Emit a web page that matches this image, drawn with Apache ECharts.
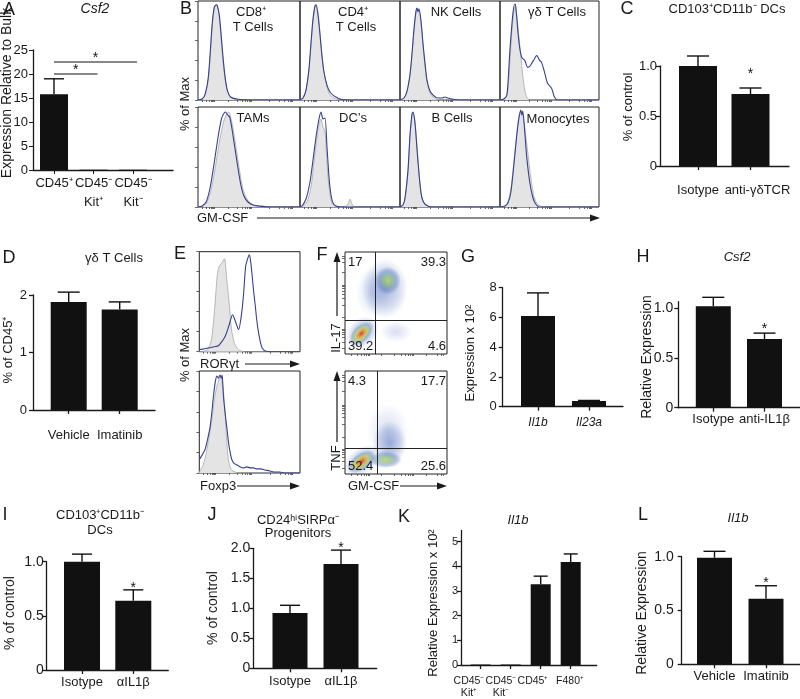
<!DOCTYPE html>
<html><head><meta charset="utf-8">
<script src="https://cdn.jsdelivr.net/npm/echarts@6/dist/echarts.min.js"></script>
<style>html,body{margin:0;padding:0;background:#fff}
#c{position:absolute;left:0;top:0;width:800px;height:699px}
#a{position:absolute;left:0;top:0;width:190px;height:215px}</style>
</head><body><div id="c"></div><div id="a"></div>
<script>
const FONT = '"Liberation Sans", Arial, Helvetica, sans-serif';

// ================= DATA =================
// A  Csf2
const catsA = ['CD45⁺', 'CD45⁻\nKit⁺', 'CD45⁻\nKit⁻'];
const meanA = [15.8, 0.06, 0.06];
const errA  = [3.2, 0, 0];
const sigA  = [[0, 2, 22.5], [0, 1, 20.0]];   // [from category, to category, bracket height]
// C  CD103+CD11b- DCs
const catsC = ['Isotype', 'anti-γδTCR'];
const meanC = [1.0, 0.72];
const errC  = [0.10, 0.06];
const starC = [0, 1];
// D  γδ T cells
const catsD = ['Vehicle', 'Imatinib'];
const meanD = [1.88, 1.75];
const errD  = [0.17, 0.13];
const starD = [0, 0];
// G  Expression x 10^2
const catsG = ['Il1b', 'Il23a'];
const meanG = [6.1, 0.38];
const errG  = [1.55, 0.04];
const starG = [0, 0];
// H  Csf2 relative expression
const catsH = ['Isotype', 'anti-IL1β'];
const meanH = [1.02, 0.69];
const errH  = [0.09, 0.06];
const starH = [0, 1];
// I  CD103+CD11b- DCs
const catsI = ['Isotype', 'αIL1β'];
const meanI = [1.0, 0.64];
const errI  = [0.07, 0.10];
const starI = [0, 1];
// J  CD24hi SIRPa- progenitors
const catsJ = ['Isotype', 'αIL1β'];
const meanJ = [0.92, 1.74];
const errJ  = [0.13, 0.23];
const starJ = [0, 1];
// K  Il1b relative expression x 10^2
const catsK = ['CD45⁻\nKit⁺', 'CD45⁻\nKit⁻', 'CD45⁺', 'F480⁺'];
const meanK = [0.02, 0.02, 3.27, 4.17];
const errK  = [0, 0, 0.33, 0.33];
const starK = [0, 0, 0, 0];
// L  Il1b relative expression
const catsL = ['Vehicle', 'Imatinib'];
const meanL = [0.99, 0.61];
const errL  = [0.06, 0.12];
const starL = [0, 1];

// Tick values
const ticksA = [0, 5, 10, 15, 20, 25];
const ticksC = [0, 0.5, 1.0];
const ticksD = [0, 1, 2];
const ticksG = [0, 2, 4, 6, 8];
const ticksJ = [0, 0.5, 1.0, 1.5, 2.0];
const ticksK = [0, 1, 2, 3, 4, 5];

// B histograms (GM-CSF, % of Max): iso = grey control, gm = stained
const isoCD8 = [[0,0],[4,1],[7,5],[10,20],[12,45],[14,75],[16,92],[18,97],[20,90],[22,70],[24,45],[26,25],[28,12],[31,4],[35,1],[45,0],[100,0]];
const gmCD8  = [[0,0],[4,1],[7,6],[10,22],[12,48],[14,78],[16,94],[18,96],[19,95],[21,85],[23,62],[25,38],[27,20],[29,9],[32,3],[38,1],[50,0],[100,0]];
const isoCD4 = [[0,0],[3,2],[6,10],[9,30],[11,55],[13,80],[15,95],[16,97],[18,88],[20,68],[22,45],[24,28],[27,13],[30,5],[34,2],[40,0],[100,0]];
const gmCD4  = [[0,0],[3,2],[6,10],[9,32],[11,58],[13,82],[15,95],[16,96],[18,86],[20,66],[22,44],[24,28],[27,15],[30,8],[33,5],[36,3],[40,1],[48,0],[100,0]];
const isoNK  = [[0,0],[4,2],[7,8],[10,25],[12,45],[14,70],[16,88],[17,92],[18,90],[19,91],[21,78],[23,55],[25,35],[27,18],[30,7],[34,2],[40,0],[100,0]];
const gmNK   = [[0,0],[4,2],[7,9],[10,26],[12,47],[14,72],[16,90],[17,93],[18,89],[19,92],[21,80],[23,57],[25,37],[27,20],[30,9],[34,4],[38,2],[42,2],[45,3],[48,2],[52,1],[60,0],[100,0]];
const isoGD  = [[0,0],[5,2],[8,10],[10,40],[12,70],[14,90],[15,94],[17,85],[19,65],[21,45],[23,25],[25,10],[27,3],[30,0],[100,0]];
const gmGD   = [[0,0],[4,1],[7,5],[10,50],[13,87],[15,97],[16,94],[18,70],[20,52],[22,43],[25,40],[28,33],[30,34],[32,37],[35,42],[37,45],[38,44],[40,40],[42,38],[45,28],[48,17],[52,12],[55,3],[58,0],[100,0]];
const isoTAM = [[0,0],[5,1],[9,5],[13,18],[17,40],[21,65],[25,85],[28,93],[30,95],[32,90],[35,75],[38,55],[41,35],[44,18],[48,8],[52,3],[58,1],[65,0],[100,0]];
const gmTAM  = [[0,0],[4,1],[8,5],[12,20],[16,45],[20,72],[23,88],[25,93],[27,95],[29,92],[31,90],[33,80],[36,60],[39,40],[42,22],[45,11],[49,5],[54,2],[60,1],[70,0],[100,0]];
const isoDC  = [[0,0],[3,1],[7,5],[11,20],[14,45],[17,70],[19,82],[21,88],[23,80],[25,75],[26,60],[28,30],[30,12],[32,4],[35,1],[45,0],[48,3],[50,8],[52,3],[55,0],[100,0]];
const gmDC   = [[0,0],[2,1],[6,8],[10,25],[13,47],[16,70],[19,88],[21,95],[23,88],[25,89],[27,60],[29,30],[31,12],[33,4],[36,1],[42,0],[100,0]];
const isoB   = [[0,0],[3,2],[5,8],[8,35],[10,70],[12,92],[13,95],[15,85],[17,60],[19,35],[21,15],[23,6],[26,2],[30,0],[100,0]];
const gmB    = [[0,0],[3,2],[5,9],[8,37],[10,72],[12,93],[13,95],[15,84],[17,58],[19,33],[21,14],[23,6],[26,2],[32,0],[100,0]];
const isoMono= [[0,0],[5,1],[8,5],[11,18],[14,45],[17,75],[19,90],[21,96],[23,92],[25,80],[28,55],[31,30],[34,12],[37,4],[41,1],[48,0],[100,0]];
const gmMono = [[0,0],[5,1],[8,4],[11,15],[14,42],[17,72],[19,88],[21,97],[22,92],[23,96],[25,75],[27,50],[30,25],[33,10],[36,3],[40,0],[100,0]];
// E histograms
const isoROR = [[0,0],[8,2],[12,12],[15,40],[18,78],[20,86],[22,88],[25,93],[27,75],[30,45],[32,22],[35,8],[39,2],[45,0],[100,0]];
const gmROR  = [[0,2],[5,3],[10,4],[15,5],[19,6],[23,11],[26,16],[30,28],[33,37],[36,30],[39,22],[42,38],[44,58],[46,85],[48,93],[49.7,97],[51,90],[52.3,78],[54,60],[55.7,45],[57,32],[59,18],[61,8],[62.3,4],[65,1],[70,0],[100,0]];
const isoFox = [[0,1],[4,8],[7,20],[10,38],[12.4,52],[15,72],[17.4,85],[19,90],[20.7,94],[22,92],[24,80],[25.5,60],[26.7,40],[28,22],[29,12],[31,5],[33,2],[40,0],[100,0]];
const gmFox  = [[0,13],[3,18],[5.7,23],[8,32],[10.7,45],[12.5,60],[14,75],[16,90],[17.4,95],[19,93],[20.5,96],[22,93],[22.7,96],[24,75],[25.5,60],[27.3,45],[29,30],[30.7,20],[32,14],[34,10],[37,8],[40.7,6],[44,5],[47,6],[50.7,5],[54,5],[57,4],[60.7,4],[65,3],[70,2],[74,1],[80,1],[84,0],[100,0]];
// F flow plots: density clusters [x%, y%, spreadW, spreadH, angle, kind]
const cloudIL17 = [[27,60,34,50,0,'faint'],[50,22,32,22,0,'faint'],[39,64,46,60,0,'cool'],[42,72,26,28,0,'warm'],[17,21,36,28,45,'cool'],[16,20,30,17,45,'hot']];
const cloudTNF  = [[42,42,42,56,0,'faint'],[44,30,34,44,0,'cool'],[17,13,40,26,35,'cool'],[40,14,32,17,0,'warm'],[16,12,32,17,35,'hot']];
const gateIL17 = [30, 33];
const gateTNF  = [32, 25];
const quadIL17 = ['17', '39.3', '39.2', '4.6'];
const quadTNF  = ['4.3', '17.7', '52.4', '25.6'];

// ================= BUILDERS =================
const INK = '#1a1a1a';
const main = {grids: [], xAxes: [], yAxes: [], series: []};
const graphics = [];

function T(x, y, s, o) {
  o = o || {};
  graphics.push({type: 'text', x: x, y: y, rotation: o.rot || 0, z: 50, silent: true,
    style: {text: s, font: (o.italic ? 'italic ' : '') + (o.size || 13) + 'px ' + FONT, fill: o.color || INK,
      textAlign: o.align || 'center', textVerticalAlign: o.va || 'middle',
      align: o.align || 'center', verticalAlign: o.va || 'middle'}});
}
function L(x1, y1, x2, y2, w) {
  graphics.push({type: 'line', silent: true, z: 50, shape: {x1, y1, x2, y2}, style: {stroke: INK, lineWidth: w || 1.2}});
}
function arrowRight(x1, x2, y) {
  L(x1, y, x2 - 6, y);
  graphics.push({type: 'polygon', silent: true, z: 50, shape: {points: [[x2, y], [x2 - 10, y - 3.5], [x2 - 10, y + 3.5]]}, style: {fill: INK}});
}
function arrowUp(x, y1, y2) {
  L(x, y1, x, y2 + 6);
  graphics.push({type: 'polygon', silent: true, z: 50, shape: {points: [[x, y2], [x - 3.5, y2 + 10], [x + 3.5, y2 + 10]]}, style: {fill: INK}});
}
function barRenderer(p) {
  return (params, api) => {
    const x = api.value(0), m = api.value(1), e = api.value(2), s = api.value(3);
    const base = api.coord([x, 0]), top = api.coord([x, m]), et = api.coord([x, m + e]);
    const hw = p.bw / 2, ch = [];
    ch.push({type: 'rect', shape: {x: base[0] - hw, y: top[1], width: p.bw, height: Math.max(base[1] - top[1], 1)}, style: {fill: '#111'}});
    if (e > 0) {
      ch.push({type: 'line', shape: {x1: et[0], y1: top[1], x2: et[0], y2: et[1]}, style: {stroke: '#111', lineWidth: 1.4}});
      ch.push({type: 'line', shape: {x1: et[0] - p.cap / 2, y1: et[1], x2: et[0] + p.cap / 2, y2: et[1]}, style: {stroke: '#111', lineWidth: 1.4}});
    }
    if (s) ch.push({type: 'text', x: et[0], y: et[1] - (p.starGap || 6) + 3,
      style: {text: '*', font: '14px ' + FONT, fill: '#111', textAlign: 'center', textVerticalAlign: 'middle', align: 'center', verticalAlign: 'middle'}});
    return {type: 'group', children: ch};
  };
}

function barPanel(ctx, p) {
  const gi = ctx.grids.length;
  const w = p.axEnd - p.ax, h = p.y0 - p.yTop;
  ctx.grids.push({left: p.ax, top: p.yTop, width: w, height: h, show: false});
  const off = (p.c0 - p.ax) / p.step;
  const pos = p.cats.map((c, i) => off + i);
  const lpos = pos.map((v, i) => v + (p.lblShift ? p.lblShift[i] / p.step : 0));
  const lineH = p.lineH || (p.xFont + 3);
  ctx.xAxes.push({type: 'value', gridIndex: gi, min: 0, max: w / p.step, splitLine: {show: false},
    axisLine: {show: true, onZero: false, lineStyle: {color: INK, width: 1.3}},
    axisTick: {show: true, customValues: pos, length: 4, lineStyle: {color: INK, width: 1.3}},
    axisLabel: {show: true, hideOverlap: false, showMinLabel: true, showMaxLabel: true,
      customValues: lpos, margin: p.xGap - lineH / 2, fontSize: p.xFont, lineHeight: lineH,
      fontStyle: p.italic ? 'italic' : 'normal', color: INK, fontFamily: FONT,
      formatter: v => { let k = 0, b = 1e9; lpos.forEach((q, i) => { if (Math.abs(q - v) < b) { b = Math.abs(q - v); k = i; } }); return p.cats[k]; }}
  });
  ctx.yAxes.push({type: 'value', gridIndex: gi, min: 0, max: p.yMax, splitLine: {show: false},
    axisLine: {show: true, onZero: false, lineStyle: {color: INK, width: 1.3}},
    axisTick: {show: true, customValues: p.yTicks, length: 4, lineStyle: {color: INK, width: 1.3}},
    axisLabel: {show: true, hideOverlap: false, showMinLabel: true, showMaxLabel: true,
      customValues: p.yTicks, margin: p.yMargin, fontSize: p.yFont, color: INK, fontFamily: FONT,
      formatter: p.dec ? (v => v === 0 ? '0' : v.toFixed(1)) : (v => String(v))}
  });
  ctx.series.push({type: 'custom', xAxisIndex: gi, yAxisIndex: gi, silent: true, clip: false,
    data: pos.map((x, i) => [x, p.mean[i], p.err[i], p.star[i]]), renderItem: barRenderer(p)});
}

const histXTicks = [4, 8, 11, 13, 14, 15, 16, 30, 38, 43, 46, 48, 50, 51, 52, 70, 80, 85, 88, 90, 91, 92];
function histPanel(left, top, w, h, iso, gm, yTicks) {
  const ctx = main, gi = ctx.grids.length;
  ctx.grids.push({left, top, width: w, height: h, show: true, borderColor: '#222', borderWidth: 1, backgroundColor: 'transparent'});
  ctx.xAxes.push({type: 'value', gridIndex: gi, min: 0, max: 100, splitLine: {show: false}, axisLine: {show: false},
    axisTick: {show: true, customValues: histXTicks, length: 2, lineStyle: {color: '#444', width: 0.8}}, axisLabel: {show: false}});
  ctx.yAxes.push({type: 'value', gridIndex: gi, min: 0, max: 100, splitLine: {show: false}, axisLine: {show: false},
    axisTick: {show: !!yTicks, customValues: [0, 20, 40, 60, 80, 100], length: 3, lineStyle: {color: '#444', width: 0.8}}, axisLabel: {show: false}});
  ctx.series.push({type: 'line', xAxisIndex: gi, yAxisIndex: gi, data: iso, smooth: 0.25, symbol: 'none', silent: true,
    lineStyle: {color: '#a8a8a8', width: 0.8}, areaStyle: {color: '#e4e4e4', opacity: 1}});
  ctx.series.push({type: 'line', xAxisIndex: gi, yAxisIndex: gi, data: gm, smooth: 0.25, symbol: 'none', silent: true,
    lineStyle: {color: '#35418f', width: 1.1}});
}

function blobColor(kind) {
  const st = {
    hot:   [[0, 'rgba(215,40,20,1)'], [0.25, 'rgba(240,140,35,0.95)'], [0.5, 'rgba(200,210,70,0.85)'], [0.75, 'rgba(90,150,170,0.5)'], [1, 'rgba(70,100,190,0)']],
    warm:  [[0, 'rgba(185,210,70,0.95)'], [0.35, 'rgba(120,180,110,0.75)'], [0.7, 'rgba(70,110,180,0.45)'], [1, 'rgba(60,90,180,0)']],
    cool:  [[0, 'rgba(65,95,180,0.6)'], [0.6, 'rgba(80,110,190,0.32)'], [1, 'rgba(80,110,190,0)']],
    faint: [[0, 'rgba(90,120,200,0.3)'], [1, 'rgba(90,120,200,0)']]
  }[kind];
  return new echarts.graphic.RadialGradient(0.5, 0.5, 0.5, st.map(s => ({offset: s[0], color: s[1]})));
}
const flowTicks = [6, 12, 16, 19, 21, 23, 24, 36, 48, 55, 59, 62, 64, 66, 67, 80, 90, 94, 96];
function flowPanel(left, top, w, h, cloud, gate) {
  const ctx = main, gi = ctx.grids.length;
  ctx.grids.push({left, top, width: w, height: h, show: true, borderColor: '#222', borderWidth: 1, backgroundColor: 'transparent'});
  ctx.xAxes.push({type: 'value', gridIndex: gi, min: 0, max: 100, splitLine: {show: false}, axisLine: {show: false},
    axisTick: {show: true, customValues: flowTicks, length: 2, lineStyle: {color: '#444', width: 0.8}}, axisLabel: {show: false}});
  ctx.yAxes.push({type: 'value', gridIndex: gi, min: 0, max: 100, splitLine: {show: false}, axisLine: {show: false},
    axisTick: {show: true, customValues: flowTicks, length: 3, lineStyle: {color: '#444', width: 0.8}}, axisLabel: {show: false}});
  ctx.series.push({type: 'scatter', xAxisIndex: gi, yAxisIndex: gi, silent: true,
    data: cloud.map(c => ({value: [c[0], c[1]], symbolSize: [c[2], c[3]], symbolRotate: c[4], itemStyle: {color: blobColor(c[5])}})),
    markLine: {silent: true, symbol: 'none', label: {show: false}, lineStyle: {color: '#222', width: 1, type: 'solid'},
      data: [{xAxis: gate[0]}, {yAxis: gate[1]}]}
  });
}

// ================= PANELS =================
T(9, 10, 'A', {size: 18});
T(95, 9, 'Csf2', {italic: true, size: 14});
T(7, 93, 'Expression Relative to Bulk', {rot: Math.PI / 2, size: 14});

// B
T(186, 9, 'B', {size: 18});
const bCols = [198, 300, 400, 500], bW = [102, 100, 100, 99];
histPanel(bCols[0], 1, bW[0], 99, isoCD8, gmCD8, true);
histPanel(bCols[1], 1, bW[1], 99, isoCD4, gmCD4, false);
histPanel(bCols[2], 1, bW[2], 99, isoNK, gmNK, false);
histPanel(bCols[3], 1, bW[3], 99, isoGD, gmGD, false);
histPanel(bCols[0], 107, bW[0], 100, isoTAM, gmTAM, true);
histPanel(bCols[1], 107, bW[1], 100, isoDC, gmDC, false);
histPanel(bCols[2], 107, bW[2], 100, isoB, gmB, false);
histPanel(bCols[3], 107, bW[3], 100, isoMono, gmMono, false);
T(251, 12, 'CD8⁺'); T(253, 27, 'T Cells');
T(353, 12, 'CD4⁺'); T(356, 27, 'T Cells');
T(456, 12, 'NK Cells');
T(557, 12, 'γδ T Cells');
T(253, 118, 'TAMs'); T(353, 118, 'DC’s'); T(452, 118, 'B Cells'); T(558, 119, 'Monocytes');
T(185, 104, '% of Max', {rot: Math.PI / 2});
T(197, 218, 'GM-CSF', {align: 'left'});
arrowRight(257, 600, 218);

// C
barPanel(main, {cats: catsC, mean: meanC, err: errC, star: starC,
  ax: 660, y0: 166, yTop: 66, yMax: 1.0, yTicks: ticksC, dec: true, axEnd: 789, c0: 698, step: 52.5, bw: 38, cap: 22,
  yFont: 13, yMargin: 3, xFont: 13, xGap: 24, starGap: 17, lblShift: [0, 7]});
T(627, 9, 'C', {size: 18});
T(727, 9, 'CD103⁺CD11b⁻ DCs');
T(628, 107, '% of control', {rot: Math.PI / 2});

// D
barPanel(main, {cats: catsD, mean: meanD, err: errD, star: starD,
  ax: 33, y0: 410, yTop: 295, yMax: 2, yTicks: ticksD, axEnd: 155, c0: 68.7, step: 51, bw: 36, cap: 22,
  yFont: 13, yMargin: 6, xFont: 13, xGap: 25});
T(9, 258, 'D', {size: 18});
T(114, 258, 'γδ T Cells');
T(8, 350, '% of CD45⁺', {rot: Math.PI / 2});

// E
T(180, 254, 'E', {size: 18});
histPanel(199.3, 251.7, 100.7, 100, isoROR, gmROR, true);
histPanel(199.3, 371, 100.7, 102, isoFox, gmFox, true);
T(185, 355, '% of Max', {rot: Math.PI / 2});
T(200, 364, 'RORγt', {align: 'left'});
arrowRight(245, 300, 364);
T(200, 486, 'Foxp3', {align: 'left'});
arrowRight(237, 300, 486);

// F
T(322, 255, 'F', {size: 18});
flowPanel(345, 252, 102, 102, cloudIL17, gateIL17);
flowPanel(345, 371, 102, 103, cloudTNF, gateTNF);
T(348, 262, quadIL17[0], {align: 'left'}); T(446, 262, quadIL17[1], {align: 'right'});
T(348, 346, quadIL17[2], {align: 'left'}); T(446, 346, quadIL17[3], {align: 'right'});
T(348, 381, quadTNF[0], {align: 'left'}); T(446, 381, quadTNF[1], {align: 'right'});
T(348, 466, quadTNF[2], {align: 'left'}); T(446, 466, quadTNF[3], {align: 'right'});
arrowUp(337, 316, 252); T(336, 338, 'IL-17', {rot: Math.PI / 2});
arrowUp(337, 442, 371); T(336, 458, 'TNF', {rot: Math.PI / 2});
T(348, 486, 'GM-CSF', {align: 'left'});
arrowRight(400, 447, 486);

// G
barPanel(main, {cats: catsG, mean: meanG, err: errG, star: starG, italic: true,
  ax: 502.7, y0: 406.7, yTop: 287.7, yMax: 8, yTicks: ticksG, axEnd: 623, c0: 538, step: 51, bw: 34, cap: 22,
  yFont: 13, yMargin: 6, xFont: 12, xGap: 16});
T(468, 257, 'G', {size: 18});
T(470, 353, 'Expression x 10²', {rot: Math.PI / 2, size: 13});

// H
barPanel(main, {cats: catsH, mean: meanH, err: errH, star: starH,
  ax: 678.3, y0: 407.7, yTop: 301.7, yMax: 1.066, yTicks: ticksC, dec: true, axEnd: 800, c0: 713.3, step: 51.2, bw: 35, cap: 22,
  yFont: 14, yMargin: 5, xFont: 13, xGap: 12, starGap: 7});
T(643, 257, 'H', {size: 18});
T(737, 257, 'Csf2', {italic: true});
T(647, 357, 'Relative Expression', {rot: Math.PI / 2, size: 14});

// I
barPanel(main, {cats: catsI, mean: meanI, err: errI, star: starI,
  ax: 46.7, y0: 670, yTop: 561.7, yMax: 1.0, yTicks: ticksC, dec: true, axEnd: 168.3, c0: 82, step: 51.3, bw: 36, cap: 20,
  yFont: 14, yMargin: 3, xFont: 13, xGap: 12, starGap: 5});
T(5, 515, 'I', {size: 18});
T(100, 515, 'CD103⁺CD11b⁻'); T(100, 530, 'DCs');
T(10, 613, '% of control', {rot: Math.PI / 2, size: 14});

// J
barPanel(main, {cats: catsJ, mean: meanJ, err: errJ, star: starJ,
  ax: 253.3, y0: 668.3, yTop: 548.3, yMax: 2.0, yTicks: ticksJ, dec: true, axEnd: 376.7, c0: 290, step: 51, bw: 35, cap: 20,
  yFont: 14, yMargin: 3, xFont: 13, xGap: 13, starGap: 5});
T(212, 515, 'J', {size: 18});
T(298, 520, 'CD24ʰⁱSIRPα⁻'); T(298, 533, 'Progenitors');
T(213, 608, '% of control', {rot: Math.PI / 2, size: 14});

// K
barPanel(main, {cats: catsK, mean: meanK, err: errK, star: starK,
  ax: 461, y0: 665.7, yTop: 530.5, yMax: 5.45, yTicks: ticksK, axEnd: 596.7, c0: 480.7, step: 30, bw: 20, cap: 14,
  yFont: 11, yMargin: 3, xFont: 10.5, xGap: 16, lineH: 12, lblShift: [-11.7, -9.7, -7.7, -0.7]});
T(404, 517, 'K', {size: 18});
T(518, 520, 'Il1b', {italic: true});
T(433, 603, 'Relative Expression x 10²', {rot: Math.PI / 2});

// L
barPanel(main, {cats: catsL, mean: meanL, err: errL, star: starL,
  ax: 681.7, y0: 664.3, yTop: 556.7, yMax: 1.0, yTicks: ticksC, dec: true, axEnd: 800, c0: 714.5, step: 51.5, bw: 35, cap: 22,
  yFont: 14, yMargin: 8, xFont: 13, xGap: 12.4, starGap: 6});
T(643, 515, 'L', {size: 18});
T(738, 518, 'Il1b', {italic: true});
T(642, 613, 'Relative Expression', {rot: Math.PI / 2, size: 14});

const chart = echarts.init(document.getElementById('c'), null, {renderer: 'canvas'});
chart.setOption({
  animation: false, backgroundColor: '#fff', textStyle: {fontFamily: FONT},
  grid: main.grids, xAxis: main.xAxes, yAxis: main.yAxes, series: main.series, graphic: {elements: graphics}
});

// ---- Panel A: own small instance in the same page coordinates ----
const layA = {ax: 33, y0: 170, yTop: 50, axEnd: 173, c0: 54, step: 39.5, bw: 28, cap: 20};
const wA = layA.axEnd - layA.ax;
const posA = catsA.map((c, i) => (layA.c0 - layA.ax) / layA.step + i);
const chartA = echarts.init(document.getElementById('a'), null, {renderer: 'canvas'});
chartA.setOption({
  animation: false, backgroundColor: 'transparent', textStyle: {fontFamily: FONT},
  grid: [{left: layA.ax, top: layA.yTop, width: wA, height: layA.y0 - layA.yTop, show: false}],
  xAxis: [{type: 'value', min: 0, max: wA / layA.step, splitLine: {show: false},
    axisLine: {show: true, onZero: false, lineStyle: {color: INK, width: 1.3}},
    axisTick: {show: true, customValues: posA, length: 4},
    axisLabel: {show: true, customValues: posA, margin: 3.5, fontSize: 13, lineHeight: 19, color: INK,
      formatter: v => { let k = 0, b = 1e9; posA.forEach((q, i) => { if (Math.abs(q - v) < b) { b = Math.abs(q - v); k = i; } }); return catsA[k]; }}}],
  yAxis: [{type: 'value', min: 0, max: 25, splitLine: {show: false},
    axisLine: {show: true, onZero: false, lineStyle: {color: INK, width: 1.3}},
    axisTick: {show: true, customValues: ticksA, length: 4},
    axisLabel: {show: false}}],
  series: [
    {type: 'custom', silent: true, clip: false, data: posA.map((x, i) => [x, meanA[i], errA[i], 0]), renderItem: barRenderer(layA)},
    {type: 'custom', silent: true, clip: false, data: sigA.map(s => [posA[s[0]], posA[s[1]], s[2]]),
      renderItem: (params, api) => {
        const a = api.coord([api.value(0), api.value(2)]), b = api.coord([api.value(1), api.value(2)]);
        return {type: 'line', shape: {x1: a[0], y1: a[1], x2: b[0] + 4, y2: b[1]}, style: {stroke: '#111', lineWidth: 1.2}};
      }}
  ]
});
// significance stars and y tick labels placed through the chart's own scale
const extraA = sigA.map(s => {
  const a = chartA.convertToPixel({gridIndex: 0}, [posA[s[0]], s[2]]);
  const b = chartA.convertToPixel({gridIndex: 0}, [posA[s[1]], s[2]]);
  return {type: 'text', x: (a[0] + b[0]) / 2 + 2, y: a[1] - 4, silent: true,
    style: {text: '*', font: '14px ' + FONT, fill: '#111', textAlign: 'center', textVerticalAlign: 'middle', align: 'center', verticalAlign: 'middle'}};
}).concat(ticksA.map(v => {
  const p = chartA.convertToPixel({gridIndex: 0}, [0, v]);
  return {type: 'text', x: p[0] - 5, y: p[1], silent: true,
    style: {text: String(v), font: '13px ' + FONT, fill: INK, textAlign: 'right', textVerticalAlign: 'middle', align: 'right', verticalAlign: 'middle'}};
}));
chartA.setOption({graphic: {elements: extraA}});
</script></body></html>
